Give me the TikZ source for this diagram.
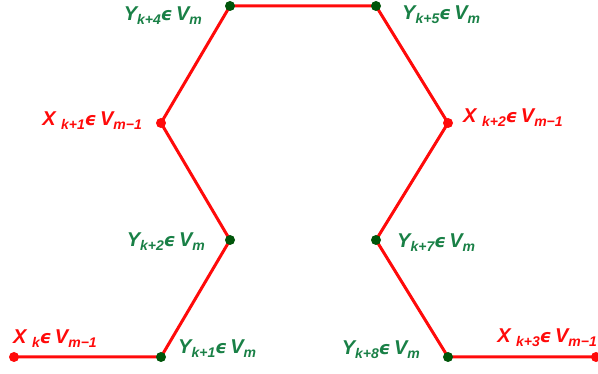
\documentclass[tikz,border=0pt]{standalone}
\usepackage{fontspec}
\setmainfont{Liberation Sans}
\newfontfamily\epsfont{DejaVu Sans}
\definecolor{lred}{RGB}{255,10,10}
\definecolor{tgreen}{RGB}{25,128,70}
\definecolor{dgreen}{RGB}{0,85,10}
\newcommand\sbs[1]{\raisebox{-0.3ex}{\fontsize{14}{14}\selectfont #1}}
\newcommand\eps{{\epsfont\fontsize{18}{18}\selectfont ϵ}\hspace{3.5pt}}
\begin{document}
\begin{tikzpicture}[x=1pt,y=-1pt,
  lbl/.style={font=\fontsize{20}{20}\selectfont\bfseries\itshape, inner sep=0pt},
  rl/.style={lbl, text=lred},
  gl/.style={lbl, text=tgreen},
  rdot/.style={circle, fill=lred, inner sep=0pt, minimum size=10pt},
  gdot/.style={circle, fill=dgreen, inner sep=0pt, minimum size=10pt},
  seg/.style={draw=lred, line width=3pt}]
\useasboundingbox (0,0) rectangle (598,374);
\coordinate (p1) at (14,357);
\coordinate (p2) at (161,357);
\coordinate (p3) at (230,240);
\coordinate (p4) at (161,123);
\coordinate (p5) at (230,6);
\coordinate (p6) at (376,6);
\coordinate (p7) at (448,123);
\coordinate (p8) at (376,240);
\coordinate (p9) at (448,357);
\coordinate (p10) at (596,357);
\draw[seg] (p1) -- (p2) -- (p3) -- (p4) -- (p5) -- (p6) -- (p7) -- (p8) -- (p9) -- (p10);
\node[rdot] (d1) at (p1) {};
\node[gdot] (d2) at (p2) {};
\node[gdot] (d3) at (p3) {};
\node[rdot] (d4) at (p4) {};
\node[gdot] (d5) at (p5) {};
\node[gdot] (d6) at (p6) {};
\node[rdot] (d7) at (p7) {};
\node[gdot] (d8) at (p8) {};
\node[gdot] (d9) at (p9) {};
\node[rdot] (d10) at (p10) {};
\node[rl, anchor=base west] (l1) at (13,344) {X \sbs{k}\eps V\sbs{m−1}};
\node[gl, anchor=base west] (l2) at (178,354) {Y\sbs{k+1}\eps V\sbs{m}};
\node[gl, anchor=base east] (l3) at (205,247) {Y\sbs{k+2}\eps V\sbs{m}};
\node[rl, anchor=base east] (l4) at (142,126) {X \sbs{k+1}\eps V\sbs{m−1}};
\node[gl, anchor=base east] (l5) at (202,21) {Y\sbs{k+4}\eps V\sbs{m}};
\node[gl, anchor=base west] (l6) at (402,20) {Y\sbs{k+5}\eps V\sbs{m}};
\node[rl, anchor=base west] (l7) at (463,123) {X \sbs{k+2}\eps V\sbs{m−1}};
\node[gl, anchor=base west] (l8) at (397,248) {Y\sbs{k+7}\eps V\sbs{m}};
\node[gl, anchor=base east] (l9) at (420,355) {Y\sbs{k+8}\eps V\sbs{m}};
\node[rl, anchor=base east] (l10) at (597,343) {X \sbs{k+3}\eps V\sbs{m−1}};
\end{tikzpicture}
\end{document}
